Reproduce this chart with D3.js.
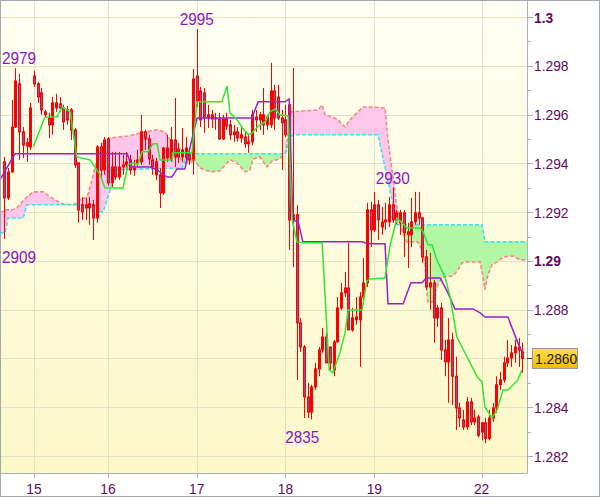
<!DOCTYPE html>
<html><head><meta charset="utf-8">
<script src="https://cdn.jsdelivr.net/npm/d3@7/dist/d3.min.js"></script>
<style>body{margin:0;background:#fff}svg{display:block}</style>
</head><body>
<svg id="c" width="600" height="497"></svg>
<script>
// ---------- DATA (hourly bars, index 0..140) ----------
const open  = [1.29406,1.29258,1.29365,1.29549,1.29726,1.29529,1.29484,1.29467,1.29758,1.29726,1.29689,1.29611,1.29586,1.29558,1.29627,1.29644,1.29627,1.29619,1.29619,1.29537,1.29402,1.2923,1.2923,1.29217,1.2923,1.29176,1.29467,1.29373,1.295,1.2932,1.29385,1.29344,1.29385,1.29394,1.29414,1.29373,1.29402,1.29406,1.29529,1.295,1.29414,1.29353,1.29353,1.29279,1.29422,1.29414,1.29496,1.29459,1.29426,1.29422,1.29435,1.29418,1.29758,1.29697,1.29689,1.29586,1.29582,1.29582,1.29582,1.295,1.29582,1.29558,1.29517,1.29529,1.29504,1.29508,1.2948,1.29488,1.2959,1.29578,1.29558,1.29558,1.29558,1.29697,1.29672,1.29586,1.29578,1.2964,1.29168,1.29189,1.28746,1.28647,1.28442,1.2838,1.28483,1.28557,1.28635,1.28688,1.28647,1.28553,1.28668,1.28807,1.28869,1.28889,1.28717,1.28758,1.28758,1.28852,1.2891,1.29209,1.29127,1.2923,1.29139,1.2916,1.2916,1.2923,1.29168,1.29156,1.29197,1.29119,1.29107,1.2916,1.29197,1.29176,1.29016,1.28893,1.2891,1.28766,1.28807,1.28635,1.28586,1.28676,1.28527,1.28397,1.28348,1.28319,1.28422,1.2834,1.2836,1.28298,1.28336,1.28272,1.28356,1.28397,1.28492,1.28512,1.28582,1.28602,1.28623,1.28647,1.28627];
const high  = [1.29426,1.29381,1.2966,1.2979,1.29767,1.29549,1.29504,1.29648,1.29779,1.29734,1.29709,1.29619,1.29607,1.29672,1.29685,1.29672,1.2964,1.29635,1.29627,1.29545,1.29402,1.29262,1.29258,1.29262,1.2925,1.29475,1.29484,1.29508,1.29508,1.29447,1.29447,1.29447,1.29435,1.29447,1.29435,1.29414,1.29455,1.29599,1.29537,1.29517,1.29435,1.29422,1.29381,1.29467,1.29517,1.29549,1.29668,1.29484,1.29545,1.29508,1.29455,1.29787,1.2995,1.29713,1.29709,1.2964,1.29619,1.29607,1.29607,1.29599,1.29607,1.29578,1.29558,1.29549,1.29545,1.29529,1.29517,1.29619,1.29619,1.29611,1.29709,1.29599,1.29812,1.29722,1.29722,1.29619,1.2964,1.29648,1.29791,1.29229,1.28766,1.28655,1.285,1.28492,1.28582,1.28647,1.28725,1.28705,1.28647,1.28676,1.28852,1.2891,1.28955,1.29074,1.28807,1.28852,1.28873,1.29012,1.29238,1.29242,1.29283,1.2925,1.29221,1.29238,1.29262,1.293,1.29209,1.29209,1.29209,1.29156,1.29258,1.29283,1.29283,1.2918,1.29045,1.29033,1.28922,1.2882,1.28828,1.28676,1.28766,1.28705,1.28607,1.28418,1.28389,1.28442,1.28438,1.28389,1.28369,1.2834,1.28356,1.28389,1.28418,1.28527,1.28545,1.28607,1.28676,1.28655,1.28676,1.28684,1.28664];
const low   = [1.2909,1.2925,1.29361,1.29545,1.29414,1.29422,1.29406,1.29455,1.29713,1.29648,1.29599,1.29586,1.29504,1.29517,1.29611,1.29611,1.29537,1.29558,1.29496,1.29381,1.29156,1.29168,1.29168,1.29148,1.29086,1.29156,1.29332,1.29353,1.29308,1.29303,1.29332,1.29332,1.29353,1.29373,1.29353,1.29349,1.29385,1.29394,1.29455,1.29394,1.29353,1.29332,1.29217,1.29271,1.29406,1.29406,1.29385,1.29402,1.29406,1.29406,1.29394,1.29353,1.29631,1.29549,1.29525,1.29545,1.29545,1.29537,1.29496,1.29496,1.29537,1.29496,1.29488,1.29488,1.29484,1.29463,1.29443,1.29475,1.29529,1.29537,1.29517,1.29537,1.29545,1.29537,1.29578,1.29373,1.29508,1.29045,1.28975,1.28512,1.28627,1.28356,1.28356,1.2835,1.28471,1.28527,1.28623,1.28582,1.28553,1.28527,1.28664,1.28799,1.28852,1.28717,1.28709,1.28738,1.28565,1.28828,1.28893,1.29057,1.29119,1.29086,1.29107,1.29127,1.29139,1.29156,1.29148,1.29107,1.29016,1.28971,1.29057,1.29148,1.29148,1.28992,1.28881,1.28799,1.28664,1.28729,1.28594,1.28527,1.28418,1.28409,1.28307,1.28319,1.28307,1.28307,1.28327,1.28327,1.28277,1.28264,1.28252,1.28264,1.2834,1.28377,1.28471,1.285,1.28565,1.28565,1.28582,1.28565,1.28541];
const close = [1.29258,1.29365,1.29549,1.29738,1.29529,1.29475,1.29471,1.29627,1.29726,1.29672,1.29619,1.29599,1.29558,1.29648,1.29648,1.29627,1.2957,1.29578,1.29537,1.29394,1.29209,1.29201,1.29217,1.29234,1.29176,1.29467,1.29373,1.29496,1.2932,1.29385,1.29344,1.29385,1.29394,1.29406,1.29373,1.29381,1.29414,1.29529,1.295,1.29418,1.29385,1.29406,1.29279,1.29463,1.29463,1.29496,1.29426,1.29426,1.29455,1.29463,1.29414,1.29746,1.29652,1.29578,1.29586,1.29599,1.29599,1.29586,1.295,1.29582,1.29553,1.29517,1.29529,1.29504,1.29517,1.2948,1.29488,1.29599,1.29578,1.29599,1.29599,1.2959,1.29697,1.29586,1.29586,1.29566,1.29517,1.29168,1.29189,1.28746,1.28647,1.28442,1.2838,1.28483,1.28557,1.28635,1.28688,1.28582,1.28582,1.28668,1.28807,1.28869,1.28889,1.28717,1.28766,1.2877,1.28852,1.2891,1.29209,1.29127,1.2923,1.29168,1.2916,1.29168,1.2923,1.29168,1.29197,1.29197,1.29115,1.29107,1.2916,1.29197,1.29176,1.29016,1.28893,1.2891,1.28766,1.28807,1.28635,1.28586,1.28676,1.28527,1.28397,1.28356,1.28319,1.28422,1.2834,1.28356,1.28285,1.28336,1.28272,1.28356,1.28397,1.28492,1.28512,1.28582,1.28602,1.28623,1.28647,1.28635,1.286];

// Ichimoku lines: [bar index, price]
const kijun = [[-1.2,1.29332],[2.9,1.29439],[33.2,1.29439],[34.5,1.29385],[39.4,1.29385],[41.3,1.29373],[44,1.29344],[45.3,1.29344],[46.7,1.29377],[48.8,1.29377],[52.1,1.29586],[66.9,1.29586],[68.6,1.29652],[75.9,1.29652],[77,1.29664],[78,1.29164],[79.4,1.29164],[80.7,1.29078],[96.9,1.29078],[98,1.2907],[102.9,1.2907],[103.7,1.28824],[107.8,1.28824],[109.9,1.2891],[112.9,1.2891],[114,1.2893],[117.8,1.2893],[119.9,1.28869],[121.8,1.28803],[126.7,1.28803],[128.6,1.28787],[129.9,1.2877],[136.1,1.2877],[138.8,1.28664],[139.9,1.28627]];
const tenkan = [[7.8,1.29467],[11,1.2959],[14.2,1.2959],[15.6,1.29631],[17.8,1.29611],[19.6,1.29426],[23.2,1.29414],[25.9,1.29353],[27.2,1.29299],[32.1,1.29299],[33.4,1.29394],[34.8,1.29402],[36.1,1.29394],[37.2,1.29447],[38.8,1.29447],[40.2,1.2948],[41.3,1.2948],[42.1,1.29414],[45.3,1.29414],[45.6,1.29443],[50.7,1.29443],[52.1,1.29652],[58.8,1.29652],[60.2,1.29717],[61,1.29607],[62.9,1.29578],[64.2,1.29549],[65.9,1.29517],[67,1.29525],[68.6,1.29553],[70.5,1.2957],[71.8,1.29611],[73.2,1.29623],[74.5,1.29599],[76.7,1.29594],[77.8,1.29168],[79.1,1.29078],[80.7,1.29074],[85.9,1.29074],[87.8,1.28553],[88.8,1.28541],[90.7,1.28623],[92.1,1.28705],[92.9,1.28799],[96.7,1.28799],[98,1.28918],[98.8,1.28926],[102.9,1.2893],[104.2,1.29057],[106.1,1.29176],[107.5,1.29156],[108.8,1.29135],[112.4,1.29135],[113.2,1.29119],[114.5,1.29066],[115.6,1.29066],[116.9,1.29004],[119.1,1.28934],[120.5,1.28852],[122.3,1.28688],[123.7,1.28647],[125.9,1.28582],[127.8,1.28524],[129.1,1.28504],[129.9,1.28401],[131.8,1.28356],[133.2,1.28389],[134.8,1.28471],[136.1,1.28471],[138.8,1.28512],[139.9,1.28553]];
const spanA = [[-1.2,1.29197],[0.2,1.29209],[2.1,1.29209],[3.4,1.29217],[4.8,1.29242],[6.1,1.29262],[7.8,1.29283],[10.5,1.29283],[12.4,1.29262],[15.6,1.29234],[18.6,1.2923],[20.5,1.2925],[22.4,1.29262],[23.7,1.29332],[25.1,1.29414],[26.4,1.29475],[28.6,1.29504],[33.4,1.29512],[38,1.29529],[41.3,1.29537],[43.4,1.29529],[44.8,1.29496],[46.7,1.29435],[48.8,1.29402],[50.7,1.29406],[51,1.29422],[52.9,1.29381],[55.6,1.29365],[58.3,1.29369],[60.2,1.29402],[61,1.29414],[62.9,1.29402],[65.1,1.29365],[66.4,1.29373],[67.2,1.29418],[69.1,1.29426],[71,1.29385],[72.4,1.2941],[74.5,1.29418],[75.9,1.29443],[76.4,1.29484],[77.2,1.29611],[84.8,1.29619],[85.9,1.29639],[86.7,1.29599],[88.6,1.2959],[90.2,1.29578],[92.1,1.29549],[93.4,1.29578],[95.3,1.29607],[96.9,1.29631],[98.8,1.29631],[102.9,1.29627],[103.7,1.29496],[106.1,1.29221],[107.8,1.29107],[108.8,1.29078],[111.8,1.29078],[112.9,1.29045],[113.7,1.28992],[114.2,1.28869],[114.5,1.28828],[115.6,1.28832],[116.4,1.28869],[117.2,1.28902],[118.3,1.28934],[121.3,1.28938],[122.6,1.28963],[123.7,1.28992],[125.1,1.28996],[128.6,1.28996],[129.4,1.28934],[129.9,1.28881],[130.7,1.28943],[131.8,1.28984],[133.2,1.28996],[134.8,1.29016],[137.5,1.2902],[139.4,1.29004],[141.3,1.29004]];
const spanB = [[-1.2,1.29115],[0.2,1.29115],[1,1.29176],[5.1,1.29176],[6.1,1.2923],[24.5,1.2923],[25.3,1.29201],[26.7,1.29201],[28.6,1.29291],[29.9,1.29373],[48,1.29381],[49.4,1.29439],[75.9,1.29439],[77.8,1.29517],[101,1.29517],[105.1,1.2923],[106.1,1.29148],[129.1,1.29148],[129.9,1.29078],[141.3,1.29078]];

// High / low annotations: [bar index, price, text, position]
const marks = [[3,1.2979,"2979","above"],[52,1.2995,"2995","above"],[105,1.2930,"2930","above"],[0,1.2909,"2909","below"],[80.5,1.2835,"2835","below"]];

const dayIdx = [8,28,52,76,100,129];
const dayLabels = ["15","16","17","18","19","22"];
const yTickVals = [1.282,1.284,1.286,1.288,1.29,1.292,1.294,1.296,1.298,1.3];
const yTickLabels = ["1.282","1.284","","1.288","1.29","1.292","1.294","1.296","1.298","1.3"];
const yMinorVals = [1.283,1.285,1.287,1.289,1.291,1.293,1.295,1.297,1.299];
const lastPrice = 1.2860, lastLabel = "1.2860";

// ---------- CHART ----------
const svg = d3.select("#c");
const P = {l:1, t:1, r:527, b:473};
const x = d3.scaleLinear().domain([0,140]).range([4.3,522.3]);
const y = d3.scaleLinear().domain([1.282,1.300]).range([456,17]);
const FONT = "'Liberation Sans', Arial, sans-serif";

const defs = svg.append("defs");
const g0 = defs.append("linearGradient").attr("id","bg").attr("x1",0).attr("y1",0).attr("x2",0).attr("y2",1);
g0.append("stop").attr("offset","0%").attr("stop-color","#fffff4");
g0.append("stop").attr("offset","100%").attr("stop-color","#fcf8c8");
const g1 = defs.append("linearGradient").attr("id","pbox").attr("x1",0).attr("y1",0).attr("x2",0).attr("y2",1);
g1.append("stop").attr("offset","0%").attr("stop-color","#ffe24a");
g1.append("stop").attr("offset","100%").attr("stop-color","#f2b800");
defs.append("clipPath").attr("id","plotclip").append("rect")
  .attr("x",P.l).attr("y",P.t).attr("width",P.r-P.l).attr("height",P.b-P.t);

const areaBelow = pts => d3.area().x(d=>x(d[0])).y0(P.b).y1(d=>y(d[1]))(pts);
const areaAbove = pts => d3.area().x(d=>x(d[0])).y0(0).y1(d=>y(d[1]))(pts);
defs.append("clipPath").attr("id","aboveB").append("path").attr("d",areaAbove(spanB));
defs.append("clipPath").attr("id","aboveA").append("path").attr("d",areaAbove(spanA));

svg.append("rect").attr("x",0).attr("y",0).attr("width",600).attr("height",497).attr("fill","#fff");
svg.append("rect").attr("x",P.l).attr("y",P.t).attr("width",P.r-P.l).attr("height",P.b-P.t).attr("fill","url(#bg)");

const plot = svg.append("g").attr("clip-path","url(#plotclip)");
// grid
plot.selectAll("line.hg").data(yTickVals).enter().append("line")
  .attr("x1",P.l).attr("x2",P.r).attr("y1",d=>Math.round(y(d))+0.5).attr("y2",d=>Math.round(y(d))+0.5)
  .attr("stroke","#e4e2c4").attr("stroke-width",1);
plot.selectAll("line.vg").data(dayIdx).enter().append("line")
  .attr("y1",P.t).attr("y2",P.b).attr("x1",d=>Math.round(x(d))+0.5).attr("x2",d=>Math.round(x(d))+0.5)
  .attr("stroke","#e4e2c4").attr("stroke-width",1);

// cloud
const cloud = plot.append("g");
cloud.append("g").attr("clip-path","url(#aboveB)").append("path").attr("d",areaBelow(spanA)).attr("fill","#fdc6ea");
cloud.append("g").attr("clip-path","url(#aboveA)").append("path").attr("d",areaBelow(spanB)).attr("fill","#b2f7a4");
const line = d3.line().x(d=>x(d[0])).y(d=>y(d[1]));
cloud.append("path").attr("d",line(spanA)).attr("fill","none").attr("stroke","#f28a8a").attr("stroke-width",1.6).attr("stroke-dasharray","4,2");
cloud.append("path").attr("d",line(spanB)).attr("fill","none").attr("stroke","#3fe0f0").attr("stroke-width",1.6).attr("stroke-dasharray","4,2");

// candles
const bars = d3.range(open.length);
const cg = plot.append("g");
bars.forEach(i=>{
  const cx = Math.round(x(i));
  cg.append("line").attr("x1",cx+0.5).attr("x2",cx+0.5).attr("y1",y(high[i])).attr("y2",y(low[i]))
    .attr("stroke","#ff0000").attr("stroke-width",1);
  const top = y(Math.max(open[i],close[i])), bot = y(Math.min(open[i],close[i]));
  const down = close[i] < open[i];
  cg.append("rect").attr("x",cx-0.5).attr("y",top).attr("width",2).attr("height",Math.max(1,bot-top))
    .attr("fill",down?"#8b559b":"none").attr("stroke","#ff0000").attr("stroke-width",1);
});

// tenkan / kijun
plot.append("path").attr("d",line(kijun)).attr("fill","none").attr("stroke","#9a22c8").attr("stroke-width",1.5);
plot.append("path").attr("d",line(tenkan)).attr("fill","none").attr("stroke","#2ee82e").attr("stroke-width",1.5);

// annotations
marks.forEach(m=>{
  const t = plot.append("text").text(m[2]).attr("font-family",FONT).attr("font-size",17)
    .attr("fill","#8a14c4").attr("text-anchor","middle");
  const cx = x(m[0]);
  const yy = m[3]==="above" ? y(m[1]) - 4 : y(m[1]) + 24;
  const w = t.node().getComputedTextLength()*0.9;
  let px = cx;
  if (px - w/2 < 2) px = 2 + w/2;
  t.attr("transform",`translate(${px},${yy}) scale(0.9,1)`);
});

// borders
svg.append("line").attr("x1",P.r+0.5).attr("x2",P.r+0.5).attr("y1",0).attr("y2",P.b+0.5).attr("stroke","#a8b0b8");
svg.append("line").attr("x1",0).attr("x2",P.r+0.5).attr("y1",P.b+0.5).attr("y2",P.b+0.5).attr("stroke","#a8b0b8");
svg.append("rect").attr("x",0.5).attr("y",0.5).attr("width",599).attr("height",496).attr("fill","none").attr("stroke","#a0a8b0");

// right axis
const ax = svg.append("g");
yTickVals.forEach((v,k)=>{
  const yy = Math.round(y(v))+0.5;
  ax.append("line").attr("x1",P.r).attr("x2",P.r+6).attr("y1",yy).attr("y2",yy).attr("stroke","#a8b0b8");
  if (!yTickLabels[k]) return;
  const bold = (yTickLabels[k]==="1.3"||yTickLabels[k]==="1.29");
  ax.append("text").text(yTickLabels[k]).attr("font-family",FONT).attr("font-size",15)
    .attr("font-weight",bold?"bold":"normal").attr("fill","#5e0a5e")
    .attr("transform",`translate(534,${y(v)+5.5}) scale(0.92,1)`);
});
yMinorVals.forEach(v=>{
  const yy = Math.round(y(v))+0.5;
  ax.append("line").attr("x1",P.r).attr("x2",P.r+4).attr("y1",yy).attr("y2",yy).attr("stroke","#a8b0b8");
});
// bottom axis
dayIdx.forEach((d,k)=>{
  const xx = Math.round(x(d))+0.5;
  ax.append("line").attr("x1",xx).attr("x2",xx).attr("y1",P.b).attr("y2",P.b+5).attr("stroke","#a8b0b8");
  ax.append("text").text(dayLabels[k]).attr("font-family",FONT).attr("font-size",15).attr("fill","#5e0a5e")
    .attr("text-anchor","middle").attr("transform",`translate(${x(d)},${P.b+21}) scale(0.92,1)`);
});
// last price box
const ly = y(lastPrice);
ax.append("line").attr("x1",P.r).attr("x2",P.r+5).attr("y1",Math.round(ly)+0.5).attr("y2",Math.round(ly)+0.5).attr("stroke","#333");
ax.append("rect").attr("x",532.5).attr("y",Math.round(ly)-9.5).attr("width",45).attr("height",20)
  .attr("fill","url(#pbox)").attr("stroke","#9a9a9a");
ax.append("text").text(lastLabel).attr("font-family",FONT).attr("font-size",15).attr("fill","#1a1a1a")
  .attr("transform",`translate(535,${ly+5.5}) scale(0.92,1)`);
</script>
</body></html>
